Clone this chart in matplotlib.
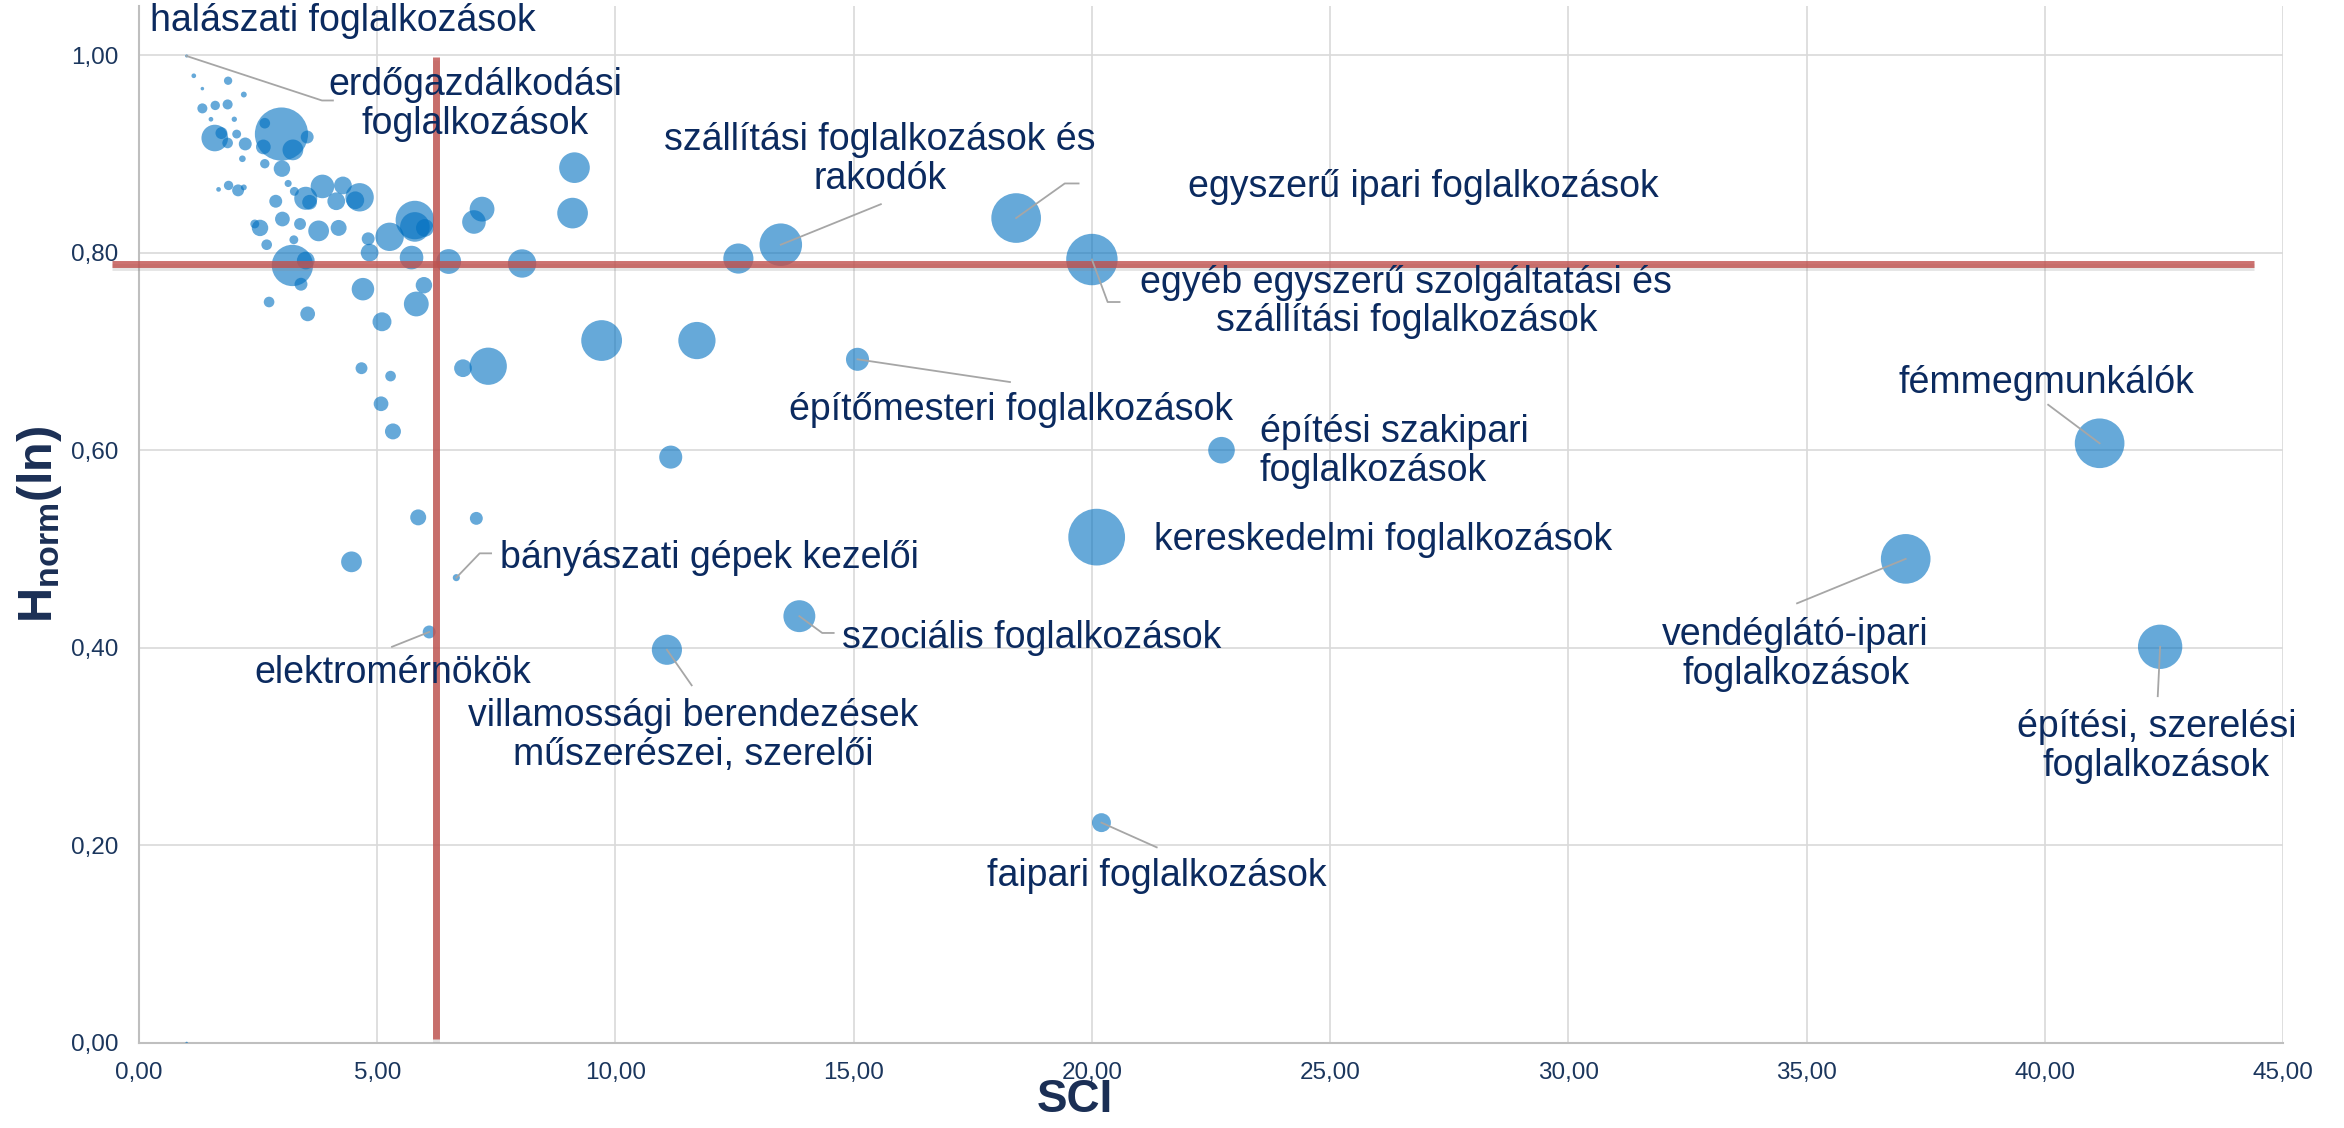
import matplotlib.pyplot as plt
import matplotlib.patheffects as pe
from matplotlib.ticker import FuncFormatter, MultipleLocator

plt.rcParams['font.family'] = ['Liberation Sans', 'DejaVu Sans']
plt.rcParams['mathtext.fontset'] = 'custom'
plt.rcParams['mathtext.rm'] = 'Liberation Sans'
plt.rcParams['mathtext.bf'] = 'Liberation Sans:bold'

# SCI, Hnorm(ln), buborék méret (terület)
sci = [1.00, 1.15, 1.87, 1.33, 2.20, 1.33, 1.60, 1.86, 1.51, 2.00,
       1.59, 1.73, 2.05, 1.86, 2.23, 2.17, 2.99, 2.64, 3.53, 2.61,
       3.23, 2.64, 3.00, 3.13, 1.67, 1.88, 2.08, 2.20, 3.26, 2.87,
       3.50, 3.85, 4.28, 4.14, 4.63, 4.54, 3.58, 3.01, 2.43, 2.54,
       3.38, 3.77, 4.19, 3.25, 2.68, 3.22, 3.50, 3.40, 2.73, 3.54,
       4.81, 5.26, 5.79, 5.79, 6.00, 7.20, 7.03, 4.84, 5.72, 6.50,
       8.04, 5.98, 4.70, 5.82, 5.10, 9.14, 9.10, 12.58, 13.47, 18.41,
       20.00, 9.71, 11.71, 7.33, 6.80, 15.08, 11.16, 5.86, 7.08, 4.67,
       5.28, 5.08, 5.33, 4.46, 6.66, 6.09, 13.86, 11.08, 20.10, 20.20,
       41.15, 37.08, 42.42, 22.72, 1.00]
hnorm = [0.999, 0.979, 0.974, 0.966, 0.960, 0.946, 0.949, 0.950, 0.935, 0.935,
         0.916, 0.921, 0.920, 0.911, 0.910, 0.895, 0.920, 0.931, 0.917, 0.907,
         0.904, 0.890, 0.885, 0.870, 0.864, 0.868, 0.863, 0.866, 0.862, 0.852,
         0.855, 0.867, 0.868, 0.852, 0.856, 0.853, 0.851, 0.834, 0.829, 0.825,
         0.829, 0.822, 0.825, 0.813, 0.808, 0.787, 0.792, 0.768, 0.750, 0.738,
         0.814, 0.816, 0.833, 0.826, 0.825, 0.844, 0.831, 0.800, 0.795, 0.791,
         0.789, 0.767, 0.763, 0.748, 0.730, 0.886, 0.840, 0.794, 0.808, 0.835,
         0.793, 0.711, 0.711, 0.685, 0.683, 0.692, 0.593, 0.532, 0.531, 0.683,
         0.675, 0.647, 0.619, 0.487, 0.471, 0.416, 0.432, 0.398, 0.512, 0.223,
         0.607, 0.490, 0.401, 0.600, 0.000]
meret = [3, 7, 22, 4, 11, 32, 28, 32, 7, 9,
         225, 45, 25, 36, 53, 14, 900, 36, 53, 69,
         137, 28, 86, 16, 7, 28, 45, 11, 25, 53,
         169, 177, 100, 100, 256, 100, 69, 69, 25, 86,
         45, 137, 81, 25, 36, 543, 100, 53, 36, 69,
         53, 256, 471, 279, 100, 196, 177, 100, 177, 196,
         256, 86, 161, 196, 114, 299, 299, 289, 576, 784,
         841, 529, 441, 441, 100, 169, 169, 81, 53, 45,
         36, 69, 81, 137, 16, 53, 324, 289, 1024, 114,
         784, 784, 625, 225, 2]

atlag_sci = 6.23
atlag_h = 0.788

# felirat, pont indexe, szöveg helye, igazítás, vezetővonal töréspontjai
cimkek = [
    ("halászati foglalkozások", 0, (0.23, 1.034), 'left', [(3.84, 0.954), (4.07, 0.954)]),
    ("erdőgazdálkodási\nfoglalkozások", 16, (7.05, 0.950), 'center', []),
    ("szállítási foglalkozások és\nrakodók", 68, (15.55, 0.894), 'center', [(15.57, 0.849)]),
    ("egyszerű ipari foglalkozások", 69, (26.95, 0.866), 'center', [(19.43, 0.870), (19.72, 0.870)]),
    ("egyéb egyszerű szolgáltatási és\nszállítási foglalkozások", 70, (26.6, 0.750), 'center', [(20.33, 0.750), (20.58, 0.750)]),
    ("építőmesteri foglalkozások", 75, (13.64, 0.641), 'left', [(18.28, 0.669)]),
    ("fémmegmunkálók", 90, (40.04, 0.668), 'center', [(40.07, 0.646)]),
    ("építési szakipari\nfoglalkozások", 93, (23.52, 0.599), 'left', []),
    ("kereskedelmi foglalkozások", 88, (21.3, 0.509), 'left', []),
    ("vendéglátó-ipari\nfoglalkozások", 91, (34.77, 0.393), 'center', [(34.8, 0.445)]),
    ("építési, szerelési\nfoglalkozások", 92, (42.34, 0.300), 'center', [(42.37, 0.351)]),
    ("szociális foglalkozások", 86, (14.76, 0.410), 'left', [(14.34, 0.415), (14.58, 0.415)]),
    ("villamossági berendezések\nműszerészei, szerelői", 87, (11.63, 0.311), 'center', [(11.6, 0.362)]),
    ("faipari foglalkozások", 89, (21.36, 0.169), 'center', [(21.36, 0.198)]),
    ("bányászati gépek kezelői", 84, (7.57, 0.491), 'left', [(7.15, 0.4956), (7.39, 0.4956)]),
    ("elektromérnökök", 85, (5.32, 0.374), 'center', [(5.31, 0.401)]),
]

szoveg_szin = '#0B2A5F'

fig = plt.figure(figsize=(23.44, 11.28), dpi=100)
ax = fig.add_axes([0.0593, 0.0754, 0.9147, 0.9196])

ax.scatter(sci, hnorm, s=[m * 1.63 for m in meret], color='#0070C0', alpha=0.6,
           edgecolors='none', zorder=3)

# átlag vonalak
arnyek = [pe.SimpleLineShadow(offset=(0, -2), shadow_color='#808080', alpha=0.2), pe.Normal()]
ax.plot([-0.57, 44.4], [atlag_h, atlag_h], color='#C0504D', alpha=0.8, lw=5,
        solid_capstyle='butt', clip_on=False, zorder=4, path_effects=arnyek)
ax.plot([atlag_sci, atlag_sci], [0.004, 0.998], color='#C0504D', alpha=0.8, lw=5,
        solid_capstyle='butt', clip_on=False, zorder=4, path_effects=arnyek)

for szoveg, i, (tx, ty), igaz, tores in cimkek:
    if tores:
        xs = [sci[i]] + [p[0] for p in tores]
        ys = [hnorm[i]] + [p[1] for p in tores]
        ax.plot(xs, ys, color='#A6A6A6', lw=1.3, zorder=5)
    ax.text(tx, ty, szoveg, ha=igaz, va='center', multialignment=igaz,
            fontsize=27, color=szoveg_szin, linespacing=1.1, zorder=6)

ax.set_xlim(0, 45)
ax.set_ylim(0, 1.05)
ax.xaxis.set_major_locator(MultipleLocator(5))
ax.yaxis.set_major_locator(MultipleLocator(0.2))
ax.xaxis.set_major_formatter(FuncFormatter(lambda v, p: f"{v:.2f}".replace('.', ',')))
ax.yaxis.set_major_formatter(FuncFormatter(lambda v, p: f"{v:.2f}".replace('.', ',')))
ax.grid(True, color='#D9D9D9', lw=1.2, zorder=0)
ax.set_axisbelow(True)
for s in ['top', 'right']:
    ax.spines[s].set_visible(False)
for s in ['left', 'bottom']:
    ax.spines[s].set_color('#BFBFBF')
    ax.spines[s].set_linewidth(1.5)
ax.tick_params(length=0, labelsize=17.5, labelcolor='#1B365D')
ax.tick_params(axis='x', pad=14)
ax.tick_params(axis='y', pad=15)

fig.text(0.4586, 0.025, "SCI", fontsize=33, fontweight='bold', color='#1B2F55',
         ha='center', va='center')
fig.text(0.017, 0.535, r'$\mathbf{H_{norm}(ln)}$', fontsize=35, color='#1B2F55',
         rotation=90, ha='center', va='center')

plt.savefig("out.png", dpi=100)
